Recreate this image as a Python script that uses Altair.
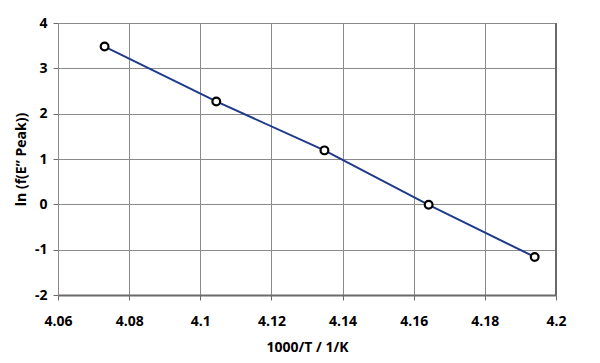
import altair as alt
import pandas as pd

x_vals = [4.0731, 4.1045, 4.1349, 4.1642, 4.1940]
y_vals = [3.48, 2.27, 1.19, -0.01, -1.16]

x_ticks = [4.06, 4.08, 4.1, 4.12, 4.14, 4.16, 4.18, 4.2]
y_ticks = [-2, -1, 0, 1, 2, 3, 4]

df = pd.DataFrame({"x": x_vals, "y": y_vals})

FONT = "Open Sans"

xscale = alt.Scale(domain=[4.06, 4.2], nice=False, zero=False)
yscale = alt.Scale(domain=[-2, 4], nice=False, zero=False)

xaxis = alt.Axis(
    title="1000/T / 1/K",
    values=x_ticks,
    labelExpr="'' + round(datum.value * 100) / 100",
    grid=True, gridColor="#8a8a8a", gridWidth=1,
    domain=True, domainColor="#6a6a6a", domainWidth=2,
    ticks=True, tickColor="#6a6a6a", tickSize=5, tickWidth=1,
    labelPadding=14, labelFont=FONT, labelFontSize=14, labelFontWeight="bold",
    labelColor="#000000", labelFlush=False,
    titleFont=FONT, titleFontSize=14, titleFontWeight="bold", titleColor="#000000",
    titlePadding=12,
)
yaxis = alt.Axis(
    title="ln (f(E\u201d Peak))",
    values=y_ticks,
    labelExpr="'' + datum.value",
    grid=True, gridColor="#8a8a8a", gridWidth=1,
    domain=True, domainColor="#8a8a8a", domainWidth=1,
    ticks=True, tickColor="#6a6a6a", tickSize=5, tickWidth=1,
    labelPadding=6, labelFont=FONT, labelFontSize=14, labelFontWeight="bold",
    labelColor="#000000", labelFlush=False,
    titleFont=FONT, titleFontSize=14, titleFontWeight="bold", titleColor="#000000",
    titlePadding=6,
)

base = alt.Chart(df)

line = base.mark_line(color="#1f3a8a", strokeWidth=2).encode(
    x=alt.X("x:Q", scale=xscale, axis=xaxis),
    y=alt.Y("y:Q", scale=yscale, axis=yaxis),
)
pts = base.mark_point(shape="circle", filled=False, fill="white", fillOpacity=1,
                      stroke="black", strokeWidth=2.2, size=60, opacity=1).encode(
    x="x:Q", y="y:Q"
)
border = alt.Chart(pd.DataFrame({"xb": [4.2]})).mark_rule(
    color="#6a6a6a", strokeWidth=2
).encode(x=alt.X("xb:Q", scale=xscale), y=alt.value(0), y2=alt.value(272))

chart = alt.layer(line, border, pts).properties(
    width=498, height=272,
    padding={"left": 50, "top": 15, "right": 36, "bottom": 60},
    autosize=alt.AutoSizeParams(type="none"),
    background="white",
).configure_view(stroke=None)

chart.save("out.html", embed_options={"renderer": "svg", "actions": False})
